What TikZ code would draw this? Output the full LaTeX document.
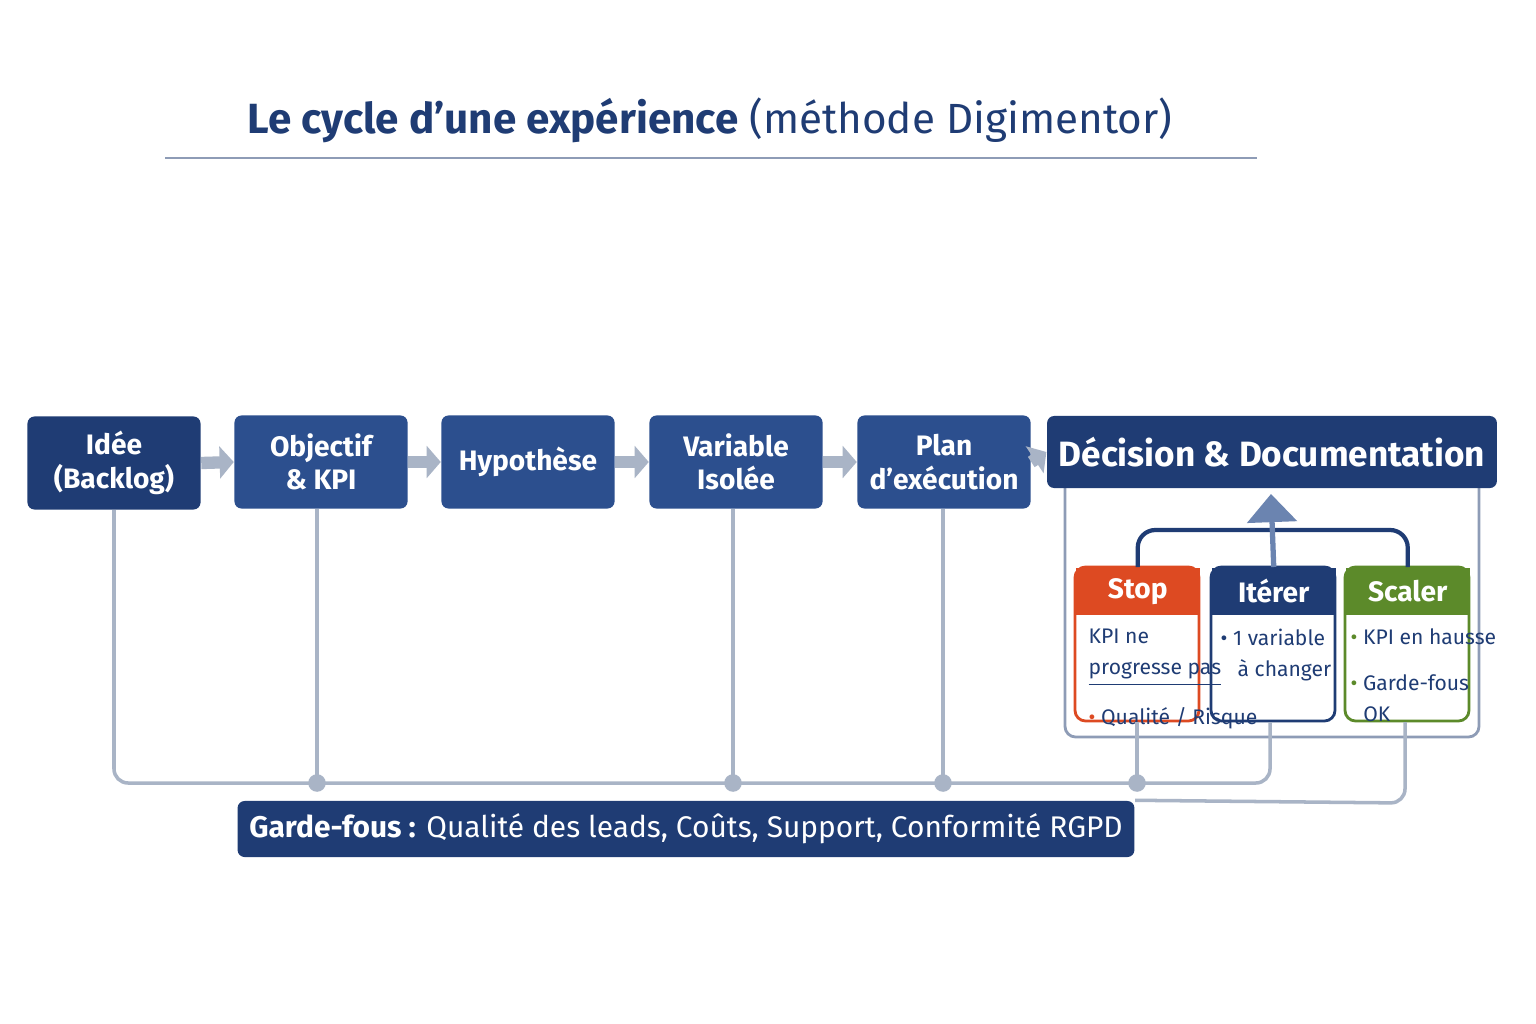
\documentclass[tikz,border=0pt]{standalone}
\usepackage{fontspec}
\setmainfont{Fira Sans}
\usetikzlibrary{arrows.meta,positioning}
\definecolor{navy}{HTML}{1F3C74}
\definecolor{stepblue}{HTML}{2C4F8E}
\definecolor{stoporange}{HTML}{DD4A22}
\definecolor{scalegreen}{HTML}{5C8A2A}
\definecolor{wire}{HTML}{A9B4C6}
\tikzset{
  stepbox/.style={fill=stepblue,rounded corners=2pt,minimum width=1.73cm,minimum height=0.93cm,
    text=white,font=\fontsize{8}{9.5}\selectfont\bfseries,align=center,inner sep=1pt},
  flow/.style={-{Triangle[length=4pt,width=9pt]},line width=3.5pt,draw=wire},
  wireline/.style={draw=wire,line width=1pt,rounded corners=4pt},
  dot/.style={circle,fill=wire,inner sep=0pt,minimum size=5pt},
  head/.style={text=white,font=\fontsize{8}{9}\selectfont\bfseries,minimum width=1.24cm,minimum height=0.47cm,inner sep=0pt},
  body/.style={font=\fontsize{6}{8}\selectfont,text=navy,align=left,anchor=north west,inner sep=0pt}
}
\begin{document}
\begin{tikzpicture}[x=0.01cm,y=-0.01cm]
\useasboundingbox[fill=white] (0,0) rectangle (1536,1024);

% title
\node (title) at (710,120) {\fontsize{12}{14}\selectfont\color{navy}\textbf{Le cycle d’une expérience} (méthode Digimentor)};
\draw[wire!80!navy,line width=0.6pt] (165,158) -- (1257,158);

% steps
\node[stepbox,fill=navy] (idee) at (114,463) {Idée\\(Backlog)};
\node[stepbox] (objectif) at (321,462) {Objectif\\\& KPI};
\node[stepbox] (hypo) at (528,462) {Hypothèse};
\node[stepbox] (variable) at (736,462) {Variable\\Isolée};
\node[stepbox] (plan) at (944,462) {Plan\\d’exécution};

% decision panel
\draw[wire!80!navy,line width=0.8pt,rounded corners=3pt,fill=white] (1065,470) rectangle (1479,737);
\node[fill=navy,minimum width=4.14cm,minimum height=0.72cm,text=white,rounded corners=2pt,
  font=\fontsize{10}{12}\selectfont\bfseries] (decision) at (1272,452) {Décision \& Documentation};

\foreach \a/\b in {idee/objectif,objectif/hypo,hypo/variable,variable/plan}
  \draw[flow] (\a.east) -- (\b.west);
\draw[flow] (plan.east) -- (decision.west);

% outcomes
\draw[draw=stoporange,fill=white,rounded corners=3pt,line width=0.8pt] (1075,567) rectangle (1199,721);
\node[head,fill=stoporange,anchor=north west] (stop) at (1075,567) {Stop};
\draw[draw=navy,fill=white,rounded corners=3pt,line width=0.8pt] (1211,567) rectangle (1335,721);
\node[head,fill=navy,anchor=north west] (iterer) at (1211,567) {Itérer};
\draw[draw=scalegreen,fill=white,rounded corners=3pt,line width=0.8pt] (1345,567) rectangle (1469,721);
\node[head,fill=scalegreen,anchor=north west] (scaler) at (1345,567) {Scaler};

\node[body] (stoptxt) at (1088,628) {KPI ne\\[1pt]\underline{progresse pas}\\[5pt]{\color{stoporange}•} Qualité / Risque};
\node[body] (itertxt) at (1220,628) {• 1 variable\\[1pt]\hspace{0.8em}à changer};
\node[body] (scaletxt) at (1350,628) {{\color{scalegreen}•} KPI en hausse\\[5pt]{\color{scalegreen}•} Garde-fous\\[1pt]\hspace{0.6em}OK};

\draw[navy,line width=1.2pt,rounded corners=5pt] (stop.north) -- ++(0,-37) -| (scaler.north);
\coordinate (up) at (1271,494);
\draw[-{Triangle[length=8pt,width=14pt]},line width=1.5pt,draw=stepblue!70] (iterer.north) -- (up);

% guard rails
\node[fill=navy,minimum width=8.62cm,minimum height=0.56cm,rounded corners=2pt,text=white,
  font=\fontsize{8.5}{10}\selectfont] (garde) at (686,829) {\textbf{Garde-fous :} Qualité des leads, Coûts, Support, Conformité RGPD};

\coordinate (bus) at (1270,783);
\draw[wireline] (idee.south) |- (bus) -- (1270,722);
\foreach \s/\x in {objectif/317,variable/733,plan/943}
  {\draw[wireline] (\x,509) -- (\x,783); \node[dot] at (\x,783) {};}
\draw[wireline] (1137,722) -- (1137,783); \node[dot] at (1137,783) {};
\draw[wireline] (1405,722) -- (1405,803) -- (garde.north east);
\end{tikzpicture}
\end{document}
